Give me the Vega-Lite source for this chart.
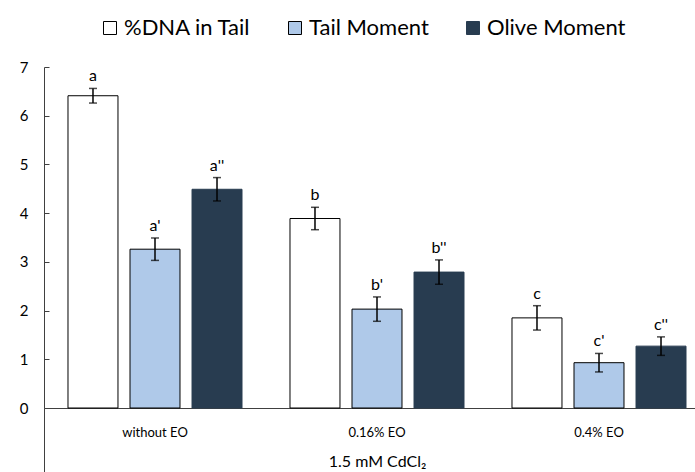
{
  "$schema": "https://vega.github.io/schema/vega-lite/v6.json",
  "width": 651,
  "height": 341,
  "autosize": {"type": "none"},
  "padding": {"left": 44, "top": 67, "right": 0, "bottom": 64},
  "config": {"view": {"stroke": null}, "font": "Lato"},
  "data": {"values": [
    {"group": "without EO", "series": "%DNA in Tail", "value": 6.41, "lo": 6.26, "hi": 6.56, "sig": "a"},
    {"group": "without EO", "series": "Tail Moment", "value": 3.26, "lo": 3.03, "hi": 3.49, "sig": "a'"},
    {"group": "without EO", "series": "Olive Moment", "value": 4.49, "lo": 4.25, "hi": 4.73, "sig": "a''"},
    {"group": "0.16% EO", "series": "%DNA in Tail", "value": 3.89, "lo": 3.66, "hi": 4.12, "sig": "b"},
    {"group": "0.16% EO", "series": "Tail Moment", "value": 2.03, "lo": 1.78, "hi": 2.28, "sig": "b'"},
    {"group": "0.16% EO", "series": "Olive Moment", "value": 2.79, "lo": 2.54, "hi": 3.04, "sig": "b''"},
    {"group": "0.4% EO", "series": "%DNA in Tail", "value": 1.85, "lo": 1.6, "hi": 2.1, "sig": "c"},
    {"group": "0.4% EO", "series": "Tail Moment", "value": 0.93, "lo": 0.74, "hi": 1.12, "sig": "c'"},
    {"group": "0.4% EO", "series": "Olive Moment", "value": 1.27, "lo": 1.08, "hi": 1.46, "sig": "c''"}
  ]},
  "encoding": {
    "x": {
      "field": "group", "type": "nominal",
      "sort": ["without EO", "0.16% EO", "0.4% EO"],
      "scale": {"range": [0, 666], "paddingInner": 0, "paddingOuter": 0},
      "axis": {
        "title": "1.5 mM CdCl₂",
        "labelAngle": 0,
        "labelFontSize": 13,
        "labelColor": "#000000",
        "labelPadding": -46,
        "domainColor": "#404040",
        "domainWidth": 1,
        "bandPosition": 0,
        "ticks": true,
        "tickSize": 64,
        "tickWidth": 1,
        "tickColor": "#404040",
        "tickOpacity": {"condition": {"test": "datum.value === 'without EO'", "value": 1}, "value": 0},
        "titleFontSize": 16,
        "titleFontWeight": "normal",
        "titleColor": "#000000",
        "titleY": 53,
        "titleBaseline": "middle"
      }
    },
    "xOffset": {
      "field": "series", "type": "nominal",
      "sort": ["%DNA in Tail", "Tail Moment", "Olive Moment"],
      "scale": {"paddingInner": 0.194, "paddingOuter": 0.387}
    }
  },
  "layer": [
    {
      "mark": {"type": "bar", "strokeWidth": 1},
      "encoding": {
        "y": {
          "field": "value", "type": "quantitative",
          "scale": {"domain": [0, 7], "nice": false},
          "axis": {
            "title": null,
            "values": [0, 1, 2, 3, 4, 5, 6, 7],
            "grid": false,
            "domainColor": "#404040",
            "tickColor": "#404040",
            "tickSize": -5,
            "labelFontSize": 15,
            "labelColor": "#000000",
            "labelPadding": 21
          }
        },
        "fill": {
          "field": "series", "type": "nominal",
          "sort": ["%DNA in Tail", "Tail Moment", "Olive Moment"],
          "scale": {"domain": ["%DNA in Tail", "Tail Moment", "Olive Moment"], "range": ["#FFFFFF", "#AFC9E9", "#283C50"]},
          "legend": {
            "title": null,
            "orient": "none",
            "direction": "horizontal",
            "legendX": 55,
            "legendY": -50,
            "symbolType": "square",
            "symbolSize": 169,
            "symbolStrokeWidth": 1,
            "labelFontSize": 22,
            "labelColor": "#000000",
            "labelOffset": 3,
            "columnPadding": 33
          }
        },
        "stroke": {
          "field": "series", "type": "nominal",
          "sort": ["%DNA in Tail", "Tail Moment", "Olive Moment"],
          "scale": {"domain": ["%DNA in Tail", "Tail Moment", "Olive Moment"], "range": ["#000000", "#000000", "#283C50"]},
          "legend": null
        }
      }
    },
    {
      "mark": {"type": "rule", "color": "#000000", "strokeWidth": 1.5},
      "encoding": {
        "y": {"field": "lo", "type": "quantitative"},
        "y2": {"field": "hi"}
      }
    },
    {
      "mark": {"type": "tick", "color": "#000000", "size": 8, "thickness": 1.5},
      "encoding": {
        "y": {"field": "lo", "type": "quantitative"}
      }
    },
    {
      "mark": {"type": "tick", "color": "#000000", "size": 8, "thickness": 1.5},
      "encoding": {
        "y": {"field": "hi", "type": "quantitative"}
      }
    },
    {
      "mark": {"type": "text", "fontSize": 16, "color": "#000000", "baseline": "alphabetic", "dy": -7},
      "encoding": {
        "y": {"field": "hi", "type": "quantitative"},
        "text": {"field": "sig"}
      }
    }
  ]
}
